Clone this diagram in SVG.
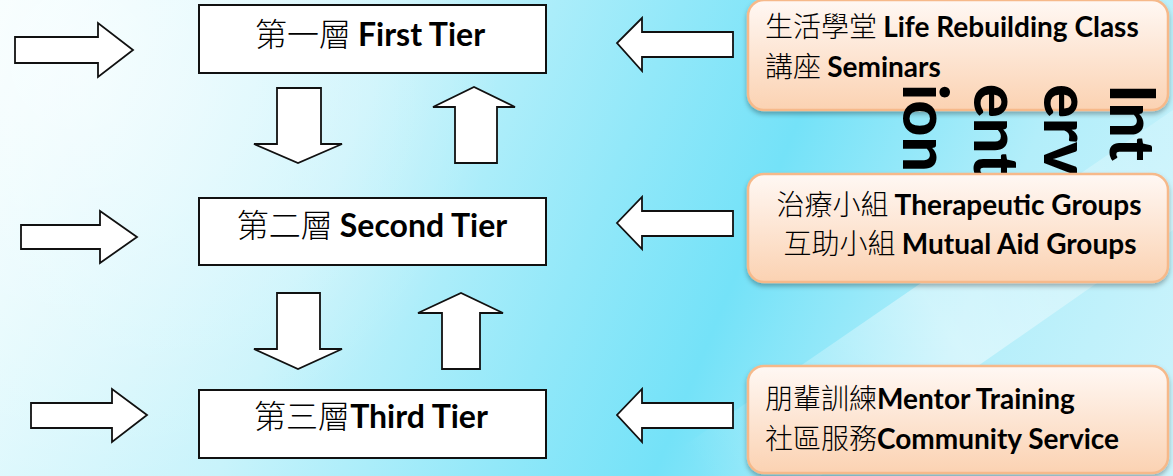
<svg xmlns="http://www.w3.org/2000/svg" width="1173" height="476" viewBox="0 0 1173 476">
  <defs>
    <linearGradient id="bg" gradientUnits="userSpaceOnUse" x1="0" y1="0" x2="1173" y2="476">
      <stop offset="0" stop-color="#f2fdfe"/>
      <stop offset="0.3" stop-color="#c8f3fb"/>
      <stop offset="0.5" stop-color="#92e8f9"/>
      <stop offset="0.62" stop-color="#74e2f8"/>
      <stop offset="0.8" stop-color="#b3eefa"/>
      <stop offset="1" stop-color="#cdf4fc"/>
    </linearGradient>
    <linearGradient id="streak" gradientUnits="userSpaceOnUse" x1="700" y1="476" x2="1173" y2="150">
      <stop offset="0" stop-color="#ffffff" stop-opacity="0"/>
      <stop offset="0.5" stop-color="#ffffff" stop-opacity="0.45"/>
      <stop offset="1" stop-color="#ffffff" stop-opacity="0.2"/>
    </linearGradient>
    <radialGradient id="glow" gradientUnits="userSpaceOnUse" cx="80" cy="60" r="420">
      <stop offset="0" stop-color="#ffffff" stop-opacity="0.6"/>
      <stop offset="1" stop-color="#ffffff" stop-opacity="0"/>
    </radialGradient>
    <linearGradient id="peach" x1="0" y1="0" x2="0" y2="1">
      <stop offset="0" stop-color="#fff8f4"/>
      <stop offset="1" stop-color="#fbd2b2"/>
    </linearGradient>
    <filter id="shadow" x="-5%" y="-10%" width="110%" height="130%">
      <feDropShadow dx="0" dy="3" stdDeviation="2.5" flood-color="#000000" flood-opacity="0.3"/>
    </filter>
    <style>
      .tier { fill: #ffffff; stroke: #111111; stroke-width: 2; }
      .arrow { fill: #ffffff; stroke: #111111; stroke-width: 1.8; stroke-linejoin: miter; }
      .obox { fill: url(#peach); stroke: #f6b98a; stroke-width: 2.5; filter: url(#shadow); }
      .cjk { font-family: "Noto Sans CJK TC", "Noto Sans CJK SC", sans-serif; font-weight: 300; }
      .en { font-family: Lato, "Open Sans", sans-serif; font-weight: bold; }
      .t32 { font-size: 32px; fill: #000000; }
      .t28 { font-size: 28px; fill: #000000; }
      .vert { font-family: Lato, "Open Sans", sans-serif; font-weight: 900; font-size: 62px; fill: #000000; }
    </style>
  </defs>

  <rect x="0" y="0" width="1173" height="476" fill="url(#bg)"/>
  <rect x="0" y="0" width="1173" height="476" fill="url(#glow)"/>
  <polygon points="640,476 820,476 1173,230 1173,110" fill="url(#streak)"/>

  <!-- Tier nodes -->
  <g id="tier1">
    <rect class="tier" x="199" y="5" width="347" height="68"/>
    <text class="t32" x="370" y="46" text-anchor="middle"><tspan class="cjk">第一層 </tspan><tspan class="en">First Tier</tspan></text>
  </g>
  <g id="tier2">
    <rect class="tier" x="199" y="198" width="347" height="67"/>
    <text class="t32" x="372" y="237" text-anchor="middle"><tspan class="cjk">第二層 </tspan><tspan class="en">Second Tier</tspan></text>
  </g>
  <g id="tier3">
    <rect class="tier" x="199" y="390" width="347" height="68"/>
    <text class="t32" x="371" y="428" text-anchor="middle"><tspan class="cjk">第三層</tspan><tspan class="en">Third Tier</tspan></text>
  </g>

  <!-- Intervention boxes -->
  <g id="box1">
    <rect class="obox" x="748" y="0" width="420" height="110" rx="16"/>
    <text class="t28" x="765" y="37"><tspan class="cjk">生活學堂 </tspan><tspan class="en">Life Rebuilding Class</tspan></text>
    <text class="t28" x="765" y="77"><tspan class="cjk">講座 </tspan><tspan class="en">Seminars</tspan></text>
  </g>

  <g id="intervention-label">
    <text class="vert" transform="translate(1110,84) rotate(90)" textLength="77" lengthAdjust="spacingAndGlyphs">Int</text>
    <text class="vert" transform="translate(1044,84) rotate(90)" textLength="92" lengthAdjust="spacingAndGlyphs">erv</text>
    <text class="vert" transform="translate(974,84) rotate(90)" textLength="93" lengthAdjust="spacingAndGlyphs">ent</text>
    <text class="vert" transform="translate(903,84) rotate(90)" textLength="88" lengthAdjust="spacingAndGlyphs">ion</text>
  </g>

  <g id="box2">
    <rect class="obox" x="748" y="174" width="420" height="108" rx="16"/>
    <text class="t28" x="959" y="215" text-anchor="middle"><tspan class="cjk">治療小組 </tspan><tspan class="en">Therapeutic Groups</tspan></text>
    <text class="t28" x="960" y="254" text-anchor="middle"><tspan class="cjk">互助小組 </tspan><tspan class="en">Mutual Aid Groups</tspan></text>
  </g>
  <g id="box3">
    <rect class="obox" x="748" y="366" width="420" height="107" rx="16"/>
    <text class="t28" x="765" y="409"><tspan class="cjk">朋輩訓練</tspan><tspan class="en">Mentor Training</tspan></text>
    <text class="t28" x="765" y="449"><tspan class="cjk">社區服務</tspan><tspan class="en">Community Service</tspan></text>
  </g>

  <!-- Connectors (block arrows) -->
  <g id="connectors">
    <!-- right-pointing input arrows -->
    <polygon class="arrow" points="15,37 98,37 98,23 133,50 98,77 98,63 15,63"/>
    <polygon class="arrow" points="21,225 100,225 100,211 137,237 100,263 100,249 21,249"/>
    <polygon class="arrow" points="31,403 112,403 112,389 147,415 112,442 112,428 31,428"/>
    <!-- left-pointing arrows from intervention boxes -->
    <polygon class="arrow" points="733,32 642,32 642,18 617,43 642,71 642,57 733,57"/>
    <polygon class="arrow" points="733,211 642,211 642,197 617,223 642,249 642,236 733,236"/>
    <polygon class="arrow" points="733,403 642,403 642,389 617,415 642,442 642,428 733,428"/>
    <!-- down arrows -->
    <polygon class="arrow" points="277,88 321,88 321,144 342,144 298,163 254,144 277,144"/>
    <polygon class="arrow" points="277,293 320,293 320,349 342,349 298,369 254,349 277,349"/>
    <!-- up arrows -->
    <polygon class="arrow" points="455,163 497,163 497,107 515,107 474,87 433,107 455,107"/>
    <polygon class="arrow" points="442,369 480,369 480,313 503,313 461,293 418,313 442,313"/>
  </g>
</svg>
